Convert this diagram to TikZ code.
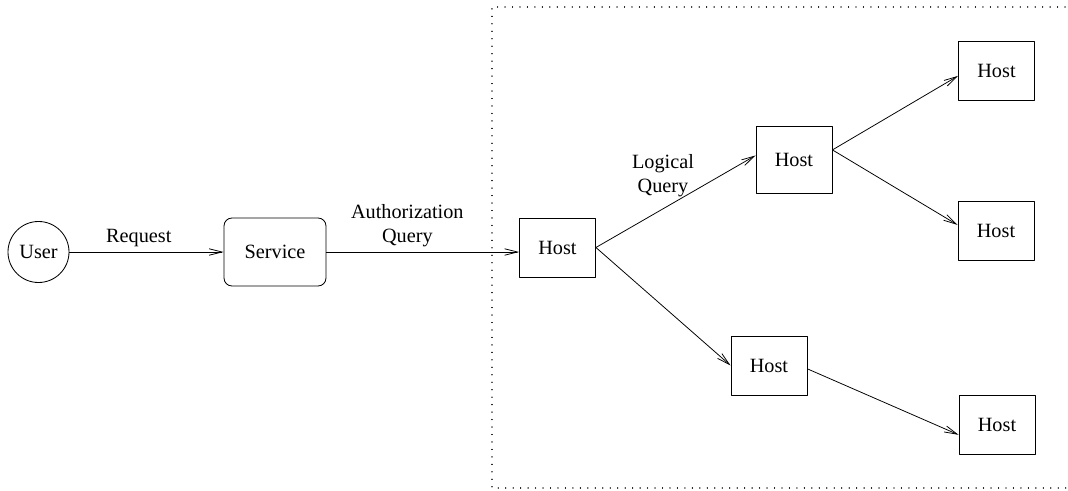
\documentclass[tikz,border=0pt]{standalone}
\usepackage{fontspec}
\setmainfont{Liberation Serif}
\usetikzlibrary{arrows.meta, positioning, calc}

\begin{document}
\begin{tikzpicture}[x=0.025cm, y=-0.025cm, line cap=round, line join=round]
	
	%======================
	% STYLES
	%======================
	\tikzset{
		lbl/.style={font=\fontsize{14.4}{17}\selectfont, align=center},
		userbox/.style={lbl, draw, circle, minimum size=1.525cm, inner sep=0pt, line width=0.6pt},
		servicebox/.style={lbl, draw, rounded corners=0.2cm, minimum width=2.55cm, minimum height=1.7cm, line width=0.6pt},
		hostbox/.style={lbl, draw, minimum width=1.9cm, minimum height=1.475cm, line width=0.6pt},
		flow/.style={line width=0.55pt, -{Straight Barb[length=3.2mm, width=1.6mm]}},
		trustzone/.style={line width=0.9pt, dash pattern=on 0.01pt off 5.3pt}
	}
	
	% page frame
	\useasboundingbox (0,0) rectangle (1068,491);
	
	%======================
	% TRUST ZONE (dotted region, open to the right)
	%======================
	\draw[trustzone] (1080,7) -- (492,7) -- (492,488) -- (1080,488);
	
	%======================
	% NODES
	%======================
	\node[userbox]    (user)    at (38.5,252) {User};
	\node[servicebox] (service) at (275,252)  {Service};
	
	\node[hostbox] (h1) at (557.5,247.5) {Host};
	\node[hostbox, minimum height=1.675cm] (h2) at (794,159.5) {Host};
	\node[hostbox] (h3) at (769,365.5)   {Host};
	\node[hostbox] (h4) at (996.5,70.5)  {Host};
	\node[hostbox] (h5) at (996,231)     {Host};
	\node[hostbox] (h6) at (997,424.5)   {Host};
	
	%======================
	% CONNECTORS
	%======================
	\draw[flow] (user.east) -- (service.west)
		node[lbl, pos=0.45, above] {Request};
	\draw[flow] (service.east) -- (service.east -| h1.west)
		node[lbl, pos=0.42, above] {Authorization\\Query};
	
	\draw[flow] (h1.east) -- (h2.174);
	\node[lbl] (lq) at (663,176) {Logical\\Query};
	\draw[flow] (h1.east) -- (h3.west);
	
	\draw[flow] (h2.14) -- (h4.188);
	\draw[flow] (h2.14) -- (h5.171);
	\draw[flow] (h3.355) -- (h6.195);
\end{tikzpicture}
\end{document}
